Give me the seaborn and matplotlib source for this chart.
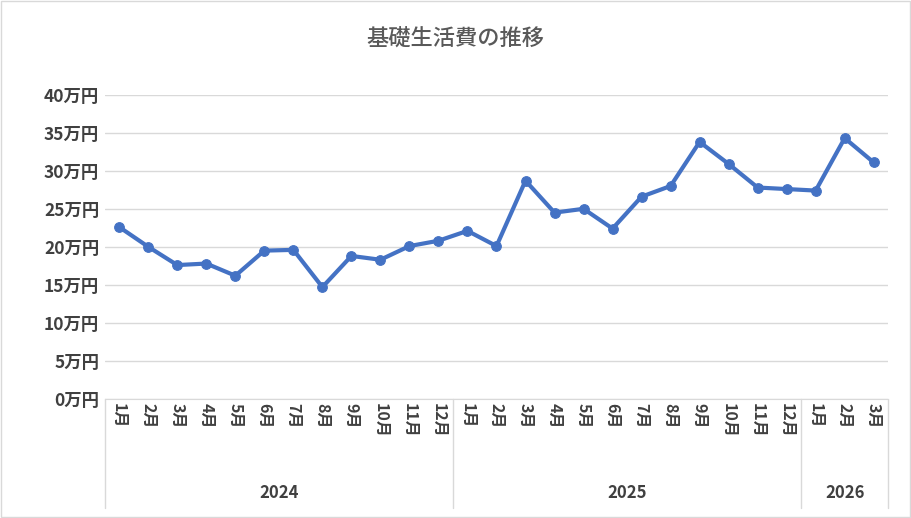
import matplotlib
matplotlib.use("Agg")
import matplotlib.pyplot as plt
import seaborn as sns
import pandas as pd

years = ["2024", "2025", "2026"]
months_per_year = [12, 12, 3]
month_labels = [f"{m}月" for m in range(1, 13)] + [f"{m}月" for m in range(1, 13)] + ["1月", "2月", "3月"]
values = [22.6, 20.0, 17.6, 17.8, 16.2, 19.5, 19.6, 14.7, 18.8, 18.3, 20.1, 20.8,
          22.1, 20.1, 28.7, 24.5, 25.0, 22.4, 26.6, 28.0, 33.8, 30.9, 27.8, 27.6,
          27.4, 34.3, 31.1]
yticks = [0, 5, 10, 15, 20, 25, 30, 35, 40]

sns.set_style("white")
plt.rcParams['font.family'] = ['Noto Sans CJK JP', 'DejaVu Sans']

df = pd.DataFrame({"i": range(len(values)), "v": values})
fig = plt.figure(figsize=(9.11, 5.18), dpi=100)
ax = fig.add_axes([0.115, 0.230, 0.86, 0.587])
sns.lineplot(data=df, x="i", y="v", ax=ax, color="#4472C4", linewidth=3,
             marker="o", markersize=7, markeredgecolor="#4472C4")
n = len(values)
ax.set_xlim(-0.5, n - 0.5)
ax.set_ylim(0, 40)
ax.set_yticks(yticks)
ax.set_yticklabels([f"{t}万円" for t in yticks], fontsize=12.5, color="#404040", fontweight="bold")
ax.yaxis.grid(True, color="#D9D9D9", linewidth=1)
ax.set_xticks([])
ax.set_xlabel(""); ax.set_ylabel("")
for s in ["top", "right", "left"]:
    ax.spines[s].set_visible(False)
ax.spines["bottom"].set_color("#D9D9D9")
ax.tick_params(axis="y", length=0, pad=4)

tr = ax.get_xaxis_transform()
for i, lab in enumerate(month_labels):
    ax.text(i, -0.015, lab, transform=tr, rotation=-90, ha="center", va="top",
            fontsize=11.5, color="#404040", fontweight="bold")
start = 0
bounds = [-0.5]
for y, c in zip(years, months_per_year):
    ax.text(start + (c - 1) / 2, -0.31, y, transform=tr, ha="center", va="center",
            fontsize=12, color="#404040", fontweight="bold")
    start += c
    bounds.append(start - 0.5)
for b in bounds:
    ax.plot([b, b], [0, -0.36], transform=tr, color="#D9D9D9", lw=1, clip_on=False)

fig.text(0.5, 0.925, "基礎生活費の推移", ha="center", va="center", fontsize=16,
         color="#595959", fontweight="medium")
fig.patches.append(plt.Rectangle((0.001, 0.001), 0.998, 0.998, transform=fig.transFigure,
                                 fill=False, edgecolor="#D9D9D9", lw=1))
fig.savefig("out.png", dpi=100)
